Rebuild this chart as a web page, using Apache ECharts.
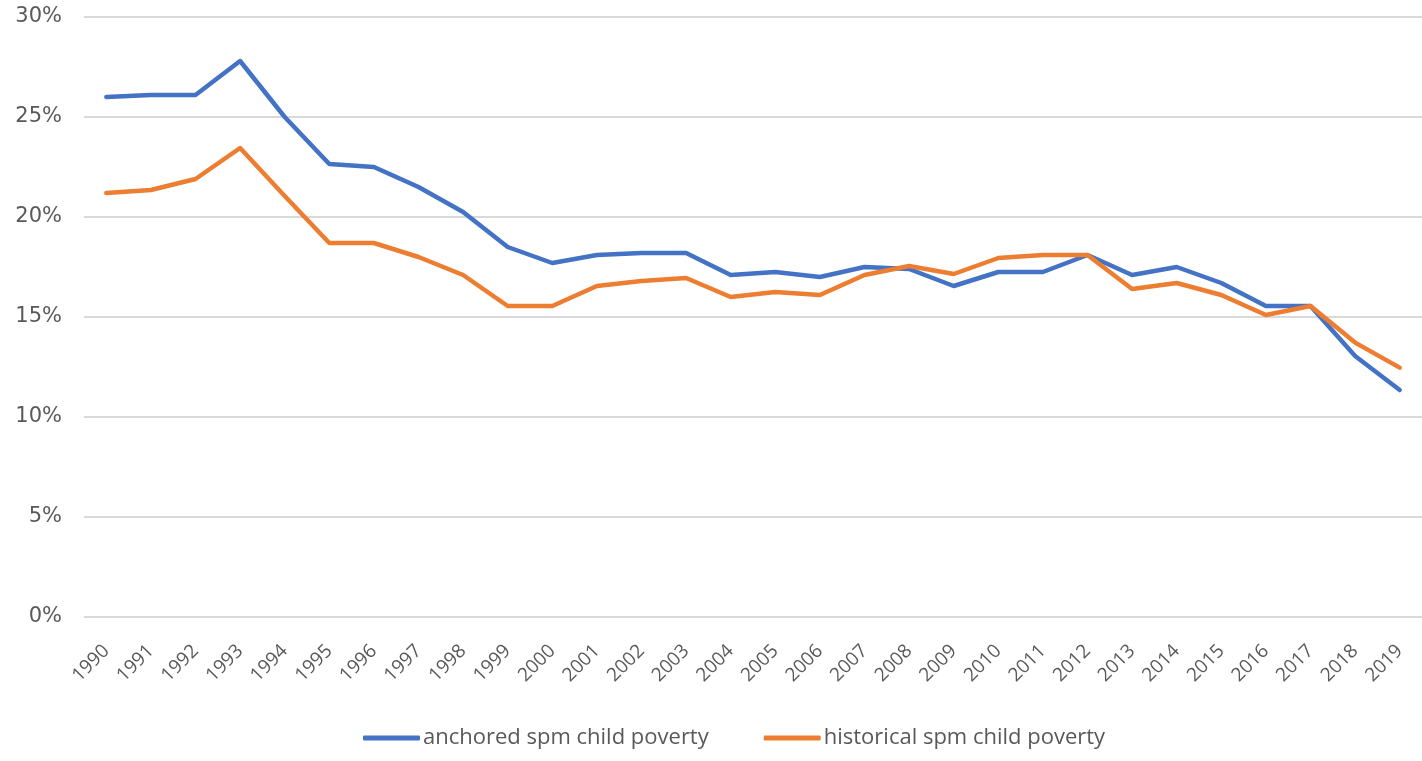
<!DOCTYPE html>
<html>
<head>
<meta charset="utf-8">
<title>SPM child poverty, 1990–2019</title>
<script src="https://cdn.jsdelivr.net/npm/echarts@6/dist/echarts.min.js"></script>
<style>
  html, body { margin: 0; padding: 0; background: #ffffff; }
  #chart { width: 1422px; height: 761px; }
</style>
</head>
<body>
<div id="chart"></div>
<script>
// Years on the category axis
const years = [
  '1990','1991','1992','1993','1994','1995','1996','1997','1998','1999',
  '2000','2001','2002','2003','2004','2005','2006','2007','2008','2009',
  '2010','2011','2012','2013','2014','2015','2016','2017','2018','2019'
];

// Child poverty rate (%), anchored SPM
const anchoredSpm = [
  26.0, 26.1, 26.1, 27.8, 25.0, 22.65, 22.5, 21.5, 20.25, 18.5,
  17.7, 18.1, 18.2, 18.2, 17.1, 17.25, 17.0, 17.5, 17.4, 16.55,
  17.25, 17.25, 18.1, 17.1, 17.5, 16.7, 15.55, 15.55, 13.05, 11.35
];

// Child poverty rate (%), historical SPM
const historicalSpm = [
  21.2, 21.35, 21.9, 23.45, 21.05, 18.7, 18.7, 18.0, 17.1, 15.55,
  15.55, 16.55, 16.8, 16.95, 16.0, 16.25, 16.1, 17.1, 17.55, 17.15,
  17.95, 18.1, 18.1, 16.4, 16.7, 16.1, 15.1, 15.55, 13.72, 12.47
];

// Value-axis ticks (%)
const yTicks = { min: 0, max: 30, step: 5 };

const seriesNames = ['anchored spm child poverty', 'historical spm child poverty'];
const colors = ['#4472C4', '#ED7D31'];

const chart = echarts.init(document.getElementById('chart'), null, { renderer: 'canvas' });

chart.setOption({
  backgroundColor: '#ffffff',
  animation: false,
  color: colors,
  // the plot area runs a few pixels past the right edge, so the last year sits near it
  grid: { left: 84, right: -5, top: 17, bottom: 144, containLabel: false },
  xAxis: {
    type: 'category',
    data: years,
    boundaryGap: true,
    axisLine: { show: false },
    axisTick: { show: false },
    axisLabel: {
      rotate: 45,
      margin: 31,
      color: '#595959',
      fontFamily: 'Open Sans',
      fontSize: 19,
      interval: 0
    }
  },
  yAxis: {
    type: 'value',
    min: yTicks.min,
    max: yTicks.max,
    interval: yTicks.step,
    axisLine: { show: false },
    axisTick: { show: false },
    splitLine: { lineStyle: { color: '#d9d9d9', width: 2 } },
    axisLabel: {
      formatter: '{value}%',
      margin: 22,
      color: '#595959',
      fontFamily: 'DejaVu Sans',
      fontSize: 21,
      padding: [4, 0, 0, 0]
    }
  },
  legend: {
    bottom: 7,
    left: 358,
    icon: 'roundRect',
    itemWidth: 57,
    itemHeight: 5,
    itemGap: 55,
    textStyle: {
      color: '#595959',
      fontFamily: 'Open Sans',
      fontSize: 22,
      padding: [0, 0, 0, -2]
    },
    data: seriesNames
  },
  series: [
    {
      name: seriesNames[0],
      type: 'line',
      data: anchoredSpm,
      symbol: 'none',
      lineStyle: { width: 4.5, cap: 'round', join: 'round' }
    },
    {
      name: seriesNames[1],
      type: 'line',
      data: historicalSpm,
      symbol: 'none',
      lineStyle: { width: 4.5, cap: 'round', join: 'round' }
    }
  ]
});
</script>
</body>
</html>
